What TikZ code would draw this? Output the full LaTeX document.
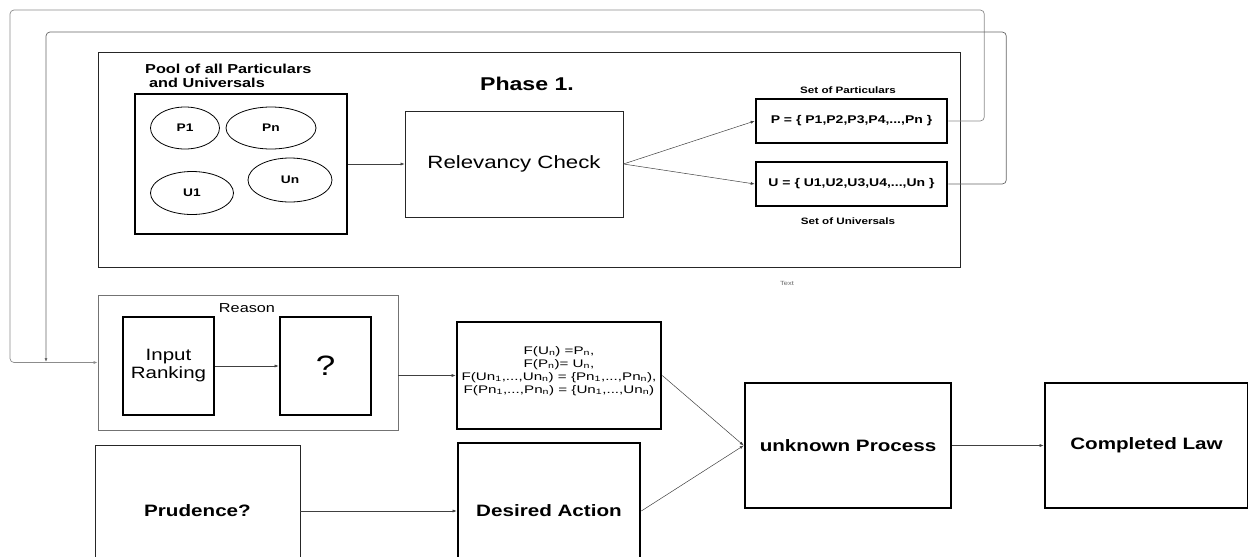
\documentclass[tikz,border=0pt]{standalone}
\usepackage{fontspec}
\setmainfont[FakeStretch=1.25]{Liberation Sans}
\newfontfamily\widefont[FakeStretch=1.38]{Liberation Sans}
\usetikzlibrary{arrows.meta,shapes.geometric}

\def\LblSize{16.5}

\begin{document}
\begin{tikzpicture}[x=1pt,y=-1pt,
    box/.style={draw, inner sep=0pt, line width=0.8pt, draw=black!85},
    heavy/.style={draw, inner sep=0pt, line width=2.6pt},
    blob/.style={draw, ellipse, inner sep=0pt, line width=0.8pt,
      font=\bfseries\fontsize{11}{13}\selectfont},
    link/.style={-{Latex[length=4pt,width=3pt]}, line width=0.5pt, draw=black!75},
    loop/.style={link, rounded corners=4pt, line width=0.7pt}]
    \useasboundingbox (0,0) rectangle (1248,557);

    % Phase 1
    \node[box] (phase) at (529,159.5) [minimum width=862, minimum height=215] {};
    \node[font=\bfseries\fontsize{18.5}{20}\selectfont] (title) at (527,84) {Phase 1.};
    \node[heavy, minimum width=212, minimum height=140] (pool) at (241,164) {};
    \node[anchor=west, align=left, inner sep=0pt, font=\bfseries\fontsize{13}{14}\selectfont]
      (poollbl) at (145,76) {Pool of all Particulars\\\hspace{4pt}and Universals};
    \node[blob, minimum width=69, minimum height=42] (p1) at (185,128) {P1};
    \node[blob, minimum width=90, minimum height=42] (pn) at (271,128) {Pn};
    \node[blob, minimum width=83, minimum height=43] (u1) at (192,193) {U1};
    \node[blob, minimum width=84, minimum height=44] (un) at (290,180) {Un};
    \node[box, minimum width=218, minimum height=106, font=\fontsize{17.8}{20}\selectfont]
      (relev) at (514,164) {Relevancy Check};
    \node[heavy, minimum width=191, minimum height=44, font=\bfseries\fontsize{11.2}{13}\selectfont]
      (pset) at (851.5,121) {P = \{ P1,P2,P3,P4,...,Pn \}};
    \node[heavy, minimum width=191, minimum height=44, font=\bfseries\fontsize{11.2}{13}\selectfont]
      (uset) at (851.5,184) {U = \{ U1,U2,U3,U4,...,Un \}};
    \node[font=\bfseries\fontsize{9.3}{11}\selectfont] (psetlbl) at (848,90) {Set of Particulars};
    \node[font=\bfseries\fontsize{9.3}{11}\selectfont] (usetlbl) at (848,221) {Set of Universals};
    \node[text=black!60, font=\fontsize{6}{7}\selectfont] (txt) at (787,283) {Text};

    % Reason
    \node[box, draw=black!55, minimum width=300, minimum height=135] (reason) at (248,362.5) {};
    \node[font=\fontsize{13}{15}\selectfont] (reasonlbl) at (247,308) {Reason};
    \node[heavy, minimum width=91, minimum height=98, align=center,
      font=\fontsize{16.4}{18}\selectfont] (rank) at (168.5,366) {Input\\Ranking};
    \node[heavy, minimum width=91, minimum height=98, font=\fontsize{28}{30}\selectfont]
      (quest) at (325.5,366) {?};
    \node[heavy, minimum width=204, minimum height=107] (fbox) at (559,375.5) {};
    \node[align=center, inner sep=0pt, font=\widefont\fontsize{11}{13}\selectfont] (ftxt) at (559,371)
      {F(U\textsubscript{n}) =P\textsubscript{n},\\
       F(P\textsubscript{n})= U\textsubscript{n},\\
       F(Un\textsubscript{1},...,Un\textsubscript{n}) = \{Pn\textsubscript{1},...,Pn\textsubscript{n}),\\
       F(Pn\textsubscript{1},...,Pn\textsubscript{n}) = \{Un\textsubscript{1},...,Un\textsubscript{n})};

    % lower row
    \node[box, minimum width=205, minimum height=132, font=\bfseries\fontsize{\LblSize}{18}\selectfont]
      (prud) at (197.5,511) {Prudence?};
    \node[heavy, minimum width=182, minimum height=136, font=\bfseries\fontsize{\LblSize}{18}\selectfont]
      (desire) at (549,511) {Desired Action};
    \node[heavy, minimum width=206, minimum height=125, font=\bfseries\fontsize{\LblSize}{18}\selectfont]
      (unk) at (848,445.5) {unknown Process};
    \node[heavy, minimum width=203, minimum height=125, font=\bfseries\fontsize{\LblSize}{18}\selectfont]
      (law) at (1146.5,445.5) {Completed Law};

    \coordinate (joinB) at (46,362);

    \draw[link] (pool) -- (relev);
    \draw[link] (relev.east) -- (pset.west);
    \draw[link] (relev.east) -- (uset.west);
    \draw[loop, draw=black!45] (pset.east) -- ++(36,0) |- (10,10) |- (reason.west);
    \draw[loop, draw=black!60] (uset.east) -- ++(58,0) |- (46,32) -- (joinB);
    \draw[link] (rank) -- (quest);
    \draw[link] (reason.east |- fbox.west) -- (fbox.west);
    \draw[link] (fbox.east) -- (unk.west);
    \draw[link] (prud) -- (desire);
    \draw[link] (desire.east) -- (unk.west);
    \draw[link] (unk) -- (law);
  \end{tikzpicture}
\end{document}
